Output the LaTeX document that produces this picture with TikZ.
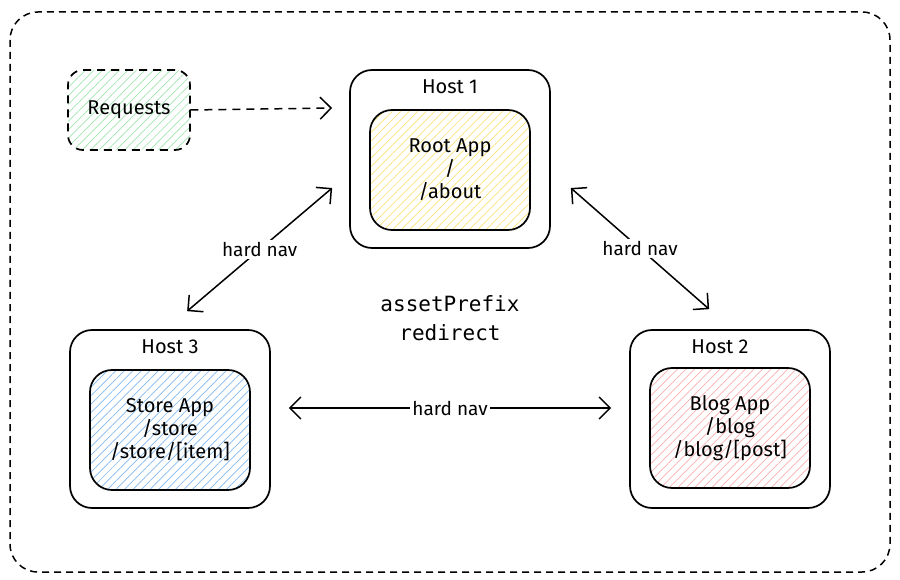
\documentclass[tikz,border=0pt]{standalone}
\usepackage{fontspec}
\setmainfont{Fira Sans}
\newfontfamily\codefont{DejaVu Sans Mono}
\usetikzlibrary{arrows.meta,patterns.meta}

\definecolor{reqgreen}{RGB}{160,228,175}
\definecolor{rootyellow}{RGB}{250,225,120}
\definecolor{storeblue}{RGB}{130,185,240}
\definecolor{blogred}{RGB}{250,175,175}

\tikzset{
  hostbox/.style={draw, line width=1.7pt, rounded corners=22pt, minimum width=200pt, minimum height=178pt, inner sep=0pt},
  hostlabel/.style={font=\fontsize{20}{22}\selectfont},
  appbox/.style={draw, line width=1.7pt, rounded corners=22pt, minimum width=160pt, minimum height=120pt, align=center,
    font=\fontsize{20}{23}\selectfont, pattern={Lines[angle=45,distance=6pt,line width=0.7pt]}, pattern color=#1},
  navarrow/.style={line width=1.5pt, {Straight Barb[length=11pt,width=22pt]}-{Straight Barb[length=11pt,width=22pt]}},
  navlabel/.style={fill=white, inner sep=2pt, font=\fontsize{19}{21}\selectfont}
}

\begin{document}
\begin{tikzpicture}[x=1pt, y=-1pt]
  %%%%% START %%%%%
  \useasboundingbox (0,0) rectangle (900,580);

  \draw[line width=1.5pt, dash pattern=on 7pt off 5pt, rounded corners=28pt] (10,12) rectangle (890,572);

  \node[draw, line width=1.7pt, dash pattern=on 8pt off 6pt, rounded corners=15pt, minimum width=122pt, minimum height=80pt,
    pattern={Lines[angle=45,distance=6pt,line width=0.7pt]}, pattern color=reqgreen, font=\fontsize{20}{22}\selectfont]
    (requests) at (129,110) {Requests};

  % hosts
  \node[hostbox] (host1) at (450,159) {};
  \node[hostlabel] (host1lbl) at (450,87) {Host 1};
  \node[appbox=rootyellow] (rootapp) at (450,170) {Root App\\/\\/about};

  \node[hostbox] (host3) at (170,419) {};
  \node[hostlabel] (host3lbl) at (170,347) {Host 3};
  \node[appbox=storeblue] (storeapp) at (170,430) {Store App\\/store\\/store/[item]};

  \node[hostbox] (host2) at (730,419) {};
  \node[hostlabel] (host2lbl) at (720,347) {Host 2};
  \node[appbox=blogred] (blogapp) at (730,428) {Blog App\\/blog\\/blog/[post]};

  \node[align=center, font=\codefont\fontsize{21}{29}\selectfont] (prefix) at (450,318) {assetPrefix\\redirect};

  % arrows
  \draw[line width=1.5pt, dash pattern=on 8pt off 6pt, -{Straight Barb[length=11pt,width=22pt]}]
    (requests.east) -- ([xshift=-17pt,yshift=51pt]host1.west);

  \draw[navarrow] ([xshift=-17pt,yshift=-29pt]host1.west) -- node[navlabel] {hard nav} ([xshift=118pt,yshift=18pt]host3.north west);
  \draw[navarrow] ([xshift=20pt,yshift=-29pt]host1.east) -- node[navlabel] {hard nav} ([xshift=80pt,yshift=20pt]host2.north west);
  \draw[navarrow] ([xshift=18pt,yshift=11pt]host3.east) -- node[navlabel] {hard nav} ([xshift=-18pt,yshift=11pt]host2.west);
  %%%%% END %%%%%
\end{tikzpicture}
\end{document}
